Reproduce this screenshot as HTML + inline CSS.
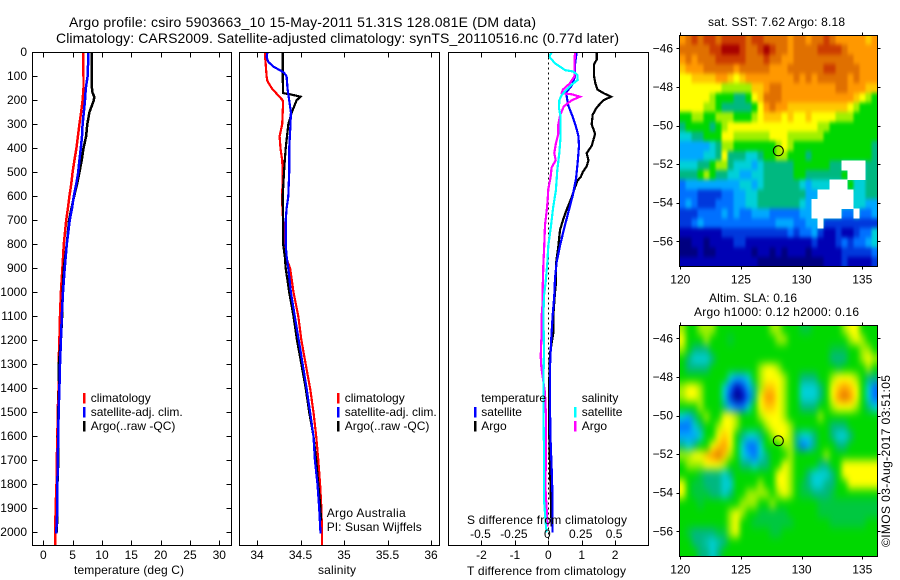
<!DOCTYPE html>
<html lang="en">
<head>
<meta charset="utf-8">
<title>Argo profile 5903663_10</title>
<style>
html,body{margin:0;padding:0;background:#fff;width:900px;height:580px;overflow:hidden}
svg{display:block;font-family:"Liberation Sans",sans-serif;font-size:12px;fill:#000}
</style>
</head>
<body>
<svg id="chart" xmlns="http://www.w3.org/2000/svg" width="900" height="580" viewBox="0 0 900 580">
  <rect x="0" y="0" width="900" height="580" fill="#fff"/>
  <text x="69" y="27" font-size="14" textLength="467">Argo profile: csiro 5903663_10 15-May-2011 51.31S 128.081E (DM data)</text>
  <text x="56" y="43" font-size="14" textLength="563">Climatology: CARS2009. Satellite-adjusted climatology: synTS_20110516.nc (0.77d later)</text>
  <text x="74" y="574" textLength="110">temperature (deg C)</text>
  <text x="318" y="574" textLength="38">salinity</text>
  <text x="467" y="575" textLength="159">T difference from climatology</text>
  <text x="708" y="26" textLength="137">sat. SST: 7.62  Argo: 8.18</text>
  <text x="709" y="302" textLength="88">Altim. SLA: 0.16</text>
  <text x="694" y="316" textLength="165">Argo h1000: 0.12  h2000: 0.16</text>
  <text transform="translate(890,547) rotate(-90)" textLength="172">©IMOS 03-Aug-2017 03:51:05</text>
  <g id="plots"></g>
  <g>
    <text x="326.7" y="517" textLength="79">Argo Australia</text>
    <text x="326.7" y="531" textLength="95">PI: Susan Wijffels</text>
  </g>
  <g>
    <text x="467" y="524" textLength="160">S difference from climatology</text>
  </g>
</svg>
<script>
// ---------- axis tick data ----------
const depthTicks = [0,100,200,300,400,500,600,700,800,900,1000,1100,1200,1300,1400,1500,1600,1700,1800,1900,2000];
const tempTicks = [0,5,10,15,20,25,30];
const salTicks = [34,34.5,35,35.5,36];
const tDiffTicks = [-2,-1,0,1,2];
const sDiffTicks = [-0.5,-0.25,0,0.25,0.5];
const lonTicks = [120,125,130,135];
const latTicks = [-46,-48,-50,-52,-54,-56];

// ---------- temperature profiles ----------
const tempClimDepth = [0,100,150,200,250,300,350,400,450,500,550,600,650,700,800,900,1000,1100,1200,1300,1400,1500,1600,1700,1800,1900,2000,2056];
const tempClimValue = [6.8,6.85,6.85,6.7,6.45,6.15,5.9,5.65,5.3,5.0,4.75,4.45,4.2,3.9,3.5,3.25,3.0,2.85,2.75,2.6,2.6,2.45,2.4,2.3,2.25,2.1,2.05,2.05];
const tempArgoDepth = [0,150,170,185,200,250,300,350,400,450,500,550,600,650,700,800,900,1000,1100,1200,1300,1400,1500,1600,1700,1800,1900,2000];
const tempArgoValue = [8.25,8.3,8.4,8.7,8.6,7.85,7.5,7.3,6.85,6.55,6.15,5.75,5.25,4.8,4.4,4.0,3.5,3.3,3.2,3.0,2.65,2.7,2.55,2.5,2.55,2.4,2.4,2.3];
const tempSatDepth = [0,100,150,200,250,300,350,400,450,500,550,600,650,700,800,900,1000,1100,1200,1300,1400,1500,1600,1700,1800,1900,2005];
const tempSatValue = [7.7,7.55,7.25,7.1,6.9,6.7,6.6,6.4,6.15,5.95,5.6,5.2,4.9,4.5,4.0,3.65,3.35,3.15,3.0,2.85,2.75,2.6,2.55,2.45,2.4,2.4,2.2];

// ---------- salinity profiles ----------
const salClimDepth = [0,50,100,120,150,180,200,210,300,350,400,450,500,600,630,700,800,850,900,1000,1100,1200,1300,1400,1500,1600,1700,1800,1900,2000,2056];
const salClimValue = [34.09,34.10,34.11,34.12,34.17,34.245,34.295,34.30,34.29,34.26,34.27,34.29,34.295,34.29,34.29,34.30,34.31,34.33,34.38,34.42,34.475,34.51,34.56,34.61,34.65,34.68,34.705,34.725,34.74,34.747,34.747];
const salArgoDepth = [0,100,170,175,185,200,250,300,400,450,500,600,700,800,850,900,1000,1100,1200,1300,1400,1500,1600,1700,1800,1900,1950];
const salArgoValue = [34.295,34.295,34.30,34.38,34.50,34.455,34.40,34.36,34.33,34.32,34.31,34.295,34.30,34.30,34.32,34.33,34.37,34.42,34.46,34.51,34.56,34.60,34.65,34.68,34.705,34.73,34.735];
const salSatDepth = [0,20,40,60,75,85,100,150,200,250,300,400,500,600,650,700,800,850,900,1000,1100,1200,1300,1400,1500,1600,1700,1800,1900,2005];
const salSatValue = [34.12,34.11,34.13,34.19,34.265,34.31,34.34,34.35,34.37,34.39,34.385,34.37,34.37,34.36,34.34,34.33,34.33,34.34,34.36,34.39,34.435,34.48,34.525,34.57,34.61,34.65,34.665,34.695,34.715,34.73];

// ---------- difference profiles ----------
const dTArgoDepth = [0,30,50,100,130,155,170,185,200,230,260,300,340,390,420,450,475,500,520,535,575,615,655,695,740,810,880,960,1000,1100,1170,1254,1407,1546,1726,1824,1976];
const dTArgoValue = [1.45,1.45,1.37,1.37,1.41,1.47,1.65,1.88,1.65,1.45,1.33,1.30,1.40,1.30,1.15,1.2,1.15,1.03,0.97,0.87,0.77,0.67,0.55,0.45,0.35,0.30,0.23,0.23,0.2,0.15,0.15,0.05,0.02,0.02,0.05,0.07,0.1];
const dTSatDepth = [0,50,100,139,167,222,264,306,348,390,458,528,597,667,736,806,875,944,1014,1100,1212,1310,1449,1588,1726,1865,2000];
const dTSatValue = [0.85,0.8,0.8,0.7,0.53,0.6,0.72,0.82,0.9,0.92,0.88,0.83,0.73,0.6,0.47,0.35,0.25,0.2,0.18,0.13,0.08,0.05,0.05,0.06,0.1,0.13,0.13];
const dSArgoDepth = [0,50,100,130,155,170,175,185,200,225,260,300,340,380,420,450,480,520,570,620,660,720,800,880,980,1040,1100,1170,1268,1310,1421,1518,1657,1810,1907,1976];
const dSArgoValue = [0.2,0.195,0.195,0.16,0.11,0.10,0.175,0.237,0.175,0.117,0.09,0.075,0.075,0.057,0.045,0.055,0.025,0.017,0,-0.005,-0.012,-0.025,-0.03,-0.037,-0.042,-0.042,-0.05,-0.05,-0.057,-0.052,-0.025,-0.017,-0.017,-0.022,-0.012,-0.007];
const dSSatDepth = [0,18,46,74,80,94,115,135,156,178,200,233,268,350,420,490,575,645,736,806,875,960,1014,1100,1240,1380,1490,1657,1865,1976,2000];
const dSSatValue = [0.025,0.007,0.05,0.125,0.187,0.217,0.22,0.175,0.137,0.1,0.082,0.08,0.092,0.092,0.082,0.067,0.057,0.037,0.017,0,-0.007,-0.02,-0.032,-0.037,-0.032,-0.037,-0.037,-0.032,-0.032,-0.017,-0.012];

// ---------- map positions ----------
const floatLon = [128.08];
const floatLat = [-51.31];

// ---------- gridded map levels (33 longitudes x 24 latitudes, -1 = no data) ----------
const sstLevels = [
[11,12,13,12,13,13,12,13,13,13,13,12,13,13,12,12,12,12,11,12,12,11,12,12,13,12,11,11,11,11,11,10,11],
[12,12,12,12,12,13,13,14,14,14,13,12,12,13,14,13,12,12,11,12,12,12,12,13,13,13,13,12,11,11,11,11,11],
[11,12,11,12,12,12,13,13,13,13,13,12,12,12,13,12,12,11,11,12,12,12,12,12,12,12,12,12,12,11,11,11,11],
[10,11,11,11,12,12,12,12,12,11,12,12,12,12,12,11,11,11,12,12,12,12,12,12,13,13,12,12,12,12,11,11,11],
[9,9,10,10,10,10,11,11,10,9,10,11,11,11,11,11,11,11,11,12,11,12,11,12,12,12,12,12,11,12,11,11,11],
[9,9,9,9,9,9,9,8,8,8,8,8,10,10,11,12,12,11,11,11,11,11,11,11,11,11,12,12,11,11,11,10,10],
[9,9,9,9,9,8,7,7,7,6,6,7,9,10,12,12,12,11,11,11,11,11,11,11,11,11,11,11,11,10,9,8,7],
[9,9,9,9,8,8,7,6,6,6,6,6,7,9,11,12,11,11,10,10,10,10,10,10,10,10,10,10,9,8,7,7,7],
[7,7,8,8,7,7,8,8,8,7,7,7,8,9,10,10,10,9,10,9,9,10,9,9,9,9,8,8,8,7,7,7,7],
[6,7,7,7,7,6,7,8,9,9,9,9,9,9,9,9,9,9,9,9,9,9,9,8,8,7,7,7,7,7,7,7,7],
[5,5,6,6,7,7,7,9,9,8,8,8,8,8,8,9,9,9,8,8,8,8,8,8,7,7,7,7,7,7,7,7,7],
[4,4,4,4,4,5,6,8,8,7,7,7,7,7,7,7,8,9,8,7,7,7,7,7,7,7,7,7,7,7,7,7,6],
[4,4,4,4,5,5,6,9,6,6,6,5,5,6,7,7,8,8,7,7,7,6,7,7,7,7,7,7,7,7,7,7,6],
[5,5,5,6,6,7,8,8,6,5,5,5,4,5,6,6,6,6,6,7,7,7,7,7,7,6,6,-1,-1,-1,-1,6,6],
[6,6,6,7,8,7,6,6,5,5,4,4,5,5,6,6,6,6,6,7,7,6,6,6,6,6,6,7,-1,-1,-1,6,6],
[3,4,4,4,4,4,4,4,4,4,5,5,4,5,6,6,6,6,6,6,5,4,5,5,5,-1,-1,-1,7,5,5,6,6],
[3,3,3,2,2,2,2,3,3,4,4,5,5,6,6,6,6,6,6,6,6,4,4,-1,-1,-1,-1,-1,-1,5,5,6,6],
[3,4,3,2,2,2,3,3,3,4,4,5,5,6,6,6,6,6,6,6,5,4,-1,-1,-1,-1,-1,-1,-1,5,5,4,4],
[2,2,2,3,3,3,3,4,3,4,3,3,4,4,4,3,3,3,3,3,4,4,-1,-1,-1,-1,-1,3,3,-1,3,3,4],
[2,2,3,4,3,3,3,3,3,3,3,3,3,3,3,3,4,4,4,3,3,4,4,-1,2,2,2,2,2,2,2,2,2],
[1,1,1,1,1,1,1,2,2,2,2,2,2,2,2,2,2,2,3,2,3,3,4,2,1,1,2,1,1,2,3,3,5],
[0,0,1,1,0,1,1,1,1,2,2,1,1,1,1,1,1,1,1,1,1,1,2,1,1,1,2,3,2,3,3,4,5],
[0,0,0,1,0,0,1,1,1,1,1,1,0,1,1,0,1,0,1,1,1,0,1,1,1,1,1,2,2,2,2,2,3],
[1,1,1,1,1,1,1,1,1,1,1,1,1,0,0,0,0,0,0,0,0,0,0,0,1,1,1,2,1,1,1,1,2]
];
const slaLevels = [
[8,7,7,8,8,8,7,7,7,7,7,7,7,7,7,8,8,7,7,7,6.5,6.5,7,7,7,7,7,8,9,9,7,7,7],
[9,7,7,7,8,7,7,7,6.5,7,7,7,7,7,7,7,8,8,7,7,7,7,7,7,7,7,7,7,8,9,8,7,7],
[8,7,6,6,6,7,7,7,7,7,7,7,7,7,7,7,7,7,7,7,7,7,7,7,7,6.5,6.5,6.5,7,7,8,8,7],
[7,6,5,5,5,6,7,7,7,7,7,7,7,7,7,7,7,7,7,7,7,7,7,7,7,6,6,6,7,7,8,9,8],
[7,6,6,6,6,7,7,7,7,7,7,7,7,8,9,9,8,7,7,7,7,7,7,7,7,7,6.5,7,7,7,7,8,7],
[7,7,7,7,7,7,7,7,5,4,4,5,7,8,9,9,9,8,7,7,6,6,6,7,7,8,9,9,9,8,7,6,6],
[8,9,9,8,7,7,7,5,3,1,2,4,6,8,10,10,9,8,7,7,5,5,5,6,7,9,10,11,10,9,7,5,3],
[8,9,9,8,7,7,7,5,2,0,1,3,6,9,11,11,9,8,7,7,5,5,5,6,7,9,11,12,11,9,7,5,3],
[7,7,7,8,7,7,7,6,4,3,3,5,7,9,10,10,9,8,7,7,6,6,6,7,7,8,9,9,9,8,7,6,5],
[5,4,6,7,8,7,7,9,9,8,7,7,7,8,9,9,9,8,7,7,7,7,7,8,7,7,7,7,7,7,7,7,7],
[3,3,5,6,7,7,8,9,9,8,7,7,7,7,8,9,9,9,8,7,7,7,7,7,7,6,6,6,7,7,7,7,7],
[4,4,4,5,7,7,9,10,9,7,6,5,5,6,7,8,9,9,8,6,5,5,6,7,7,6,5,5,6,7,7,7,7],
[6,5,6,7,7,9,10,11,9,7,5,3,3,5,7,7,7,8,8,6,3,4,6,7,7,7,6,6,7,7,7,7,7],
[8,8,9,9,10,11,12,10,8,7,5,4,3,5,6,7,7,7,8,7,7,7,7,7,8,7,7,7,7,7,7,7,7],
[7,8,8,8,9,9,9,8,7,7,6,6,5,6,6,7,7,9,8,7,7,7,7,6,6,7,7,9,9,9,9,9,9],
[7,7,7,6.5,6,6,6,5,6,7,7,7,7,7,7,7,9,9,8,7,7,6,5,5,5,6,7,9,9,9,9,9,9],
[9,7,6.5,6.5,6,6,6,5,5,7,7,7,7,8,7,7,9,9,8,7,6.5,6,5,5,6,6,7,7,9,9,9,9,9],
[9,7,6.5,6.5,6.5,6,6,5,6,7,7,8,8,8,8,7,8,9,8,7,6.5,6.5,6,6,6,6.5,7,7,7,7,7,7,7],
[7,7,7,6.5,7,7,7,7,7,7,8,8,8,7,7,8,7,7,7,7,7,7,7,6.5,6.5,6.5,6.5,6.5,6.5,6.5,6.5,6.5,6.5],
[7,7,7,7,7,7,7,7,8,9,8,7,7,6.5,6.5,6.5,6.5,6.5,7,7,7,7,7,6.5,6.5,6.5,6.5,6.5,6.5,6.5,6.5,6.5,6.5],
[7,7,7,7,7,7,7,7,8,9,7,7,6.5,6.5,6.5,6.5,6.5,6.5,6.5,7,7,7,7,7,7,6.5,6.5,6.5,6.5,6.5,6.5,7,7],
[7,6.5,6,6,6,6,6.5,6.5,8,9,7,7,7,7,7,6.5,6.5,7,7,7,7,7,7,7,7,7,7,7,7,7,7,7,7],
[7,7,6,6,5.5,5,5.5,6,7,7,7,7,7,7,7,7,7,7,7,7,7,7,7,7,7,7,7,7,7,7,7,7,7],
[7,7,7,6,6,5,6,7,7,7,7,7,7,7,7,7,7,7,7,7,7,7,7,7,7,7,7,7,7,7,7,7,7]
];
const levelColors = ['#000080','#0000b4','#0038dc','#0070ff','#00a8ff','#00d0d8','#00b880','#00d800','#a0f000','#ffff00','#ffc800','#ff9800','#e07000','#cc3c00','#a80000'];

// ---------- scales ----------
const SVGNS = 'http://www.w3.org/2000/svg';
const root = document.getElementById('plots');
const depthY = d => 52.3 + 0.24 * d;
const tempX = t => 43.3 + 5.867 * t;
const salX = s => 257 + 87 * (s - 34);
const dTX = t => 548.3 + 33.4 * t;
const dSX = s => 548.3 + 133.7 * s;
const lonX = l => 680.3 + 12.13 * (l - 120);
const lat1Y = l => 48.3 + 19.3 * (-46 - l);
const lat2Y = l => 338.3 + 19.3 * (-46 - l);

function levelColor(v) {
  const c = Math.max(0, Math.min(levelColors.length - 1, v));
  const a = Math.floor(c);
  const b = Math.min(levelColors.length - 1, a + 1);
  const f = c - a;
  const parse = h => [1, 3, 5].map(k => parseInt(h.substr(k, 2), 16));
  const pa = parse(levelColors[a]);
  const pb = parse(levelColors[b]);
  return 'rgb(' + pa.map((x, k) => Math.round(x + (pb[k] - x) * f)).join(',') + ')';
}
function add(parent, tag, name) {
  const el = document.createElementNS(SVGNS, tag);
  
  
  parent.appendChild(el);
  return el;
}
function seg(parent, name, x1, y1, x2, y2) {
  const l = add(parent, 'line', name);
  l.setAttribute('x1', x1); l.setAttribute('y1', y1);
  l.setAttribute('x2', x2); l.setAttribute('y2', y2);
  l.setAttribute('stroke', '#000');
  l.setAttribute('stroke-width', '1');
  l.setAttribute('shape-rendering', 'crispEdges');
  return l;
}
function label(parent, name, x, y, str, anchor) {
  const t = add(parent, 'text', name);
  t.setAttribute('x', x); t.setAttribute('y', y);
  if (anchor) t.setAttribute('text-anchor', anchor);
  t.textContent = str;
  return t;
}
function frame(parent, name, x0, y0, x1, y1) {
  const r = add(parent, 'rect', name);
  r.setAttribute('x', x0); r.setAttribute('y', y0);
  r.setAttribute('width', x1 - x0); r.setAttribute('height', y1 - y0);
  r.setAttribute('fill', 'none');
  r.setAttribute('stroke', '#000');
  r.setAttribute('stroke-width', '1');
  r.setAttribute('shape-rendering', 'crispEdges');
  return r;
}
function profile(parent, name, color, depths, values, xf, width) {
  const p = add(parent, 'polyline', name);
  p.setAttribute('points', depths.map((d, i) => xf(values[i]).toFixed(1) + ',' + depthY(d).toFixed(1)).join(' '));
  p.setAttribute('fill', 'none');
  p.setAttribute('stroke', color);
  p.setAttribute('stroke-width', width);
  p.setAttribute('shape-rendering', 'crispEdges');
  return p;
}
function legendEntry(parent, name, x, y, color, str) {
  if (color) {
    const s = add(parent, 'rect', name + '-swatch');
    s.setAttribute('x', x - 7.5);
    s.setAttribute('y', y - 9);
    s.setAttribute('width', 2.5);
    s.setAttribute('height', 10.5);
    s.setAttribute('fill', color);
    s.setAttribute('shape-rendering', 'crispEdges');
  }
  label(parent, name + '-label', x, y, str);
}

const TOP = 52.5, BOT = 545.5;

// ---------- panel 1: temperature ----------
const p1 = add(root, 'g', 'temperature-panel');
profile(p1, 'temperature-climatology-line', '#ff0000', tempClimDepth, tempClimValue, tempX, 2.5);
profile(p1, 'temperature-argo-line', '#000000', tempArgoDepth, tempArgoValue, tempX, 2.5);
profile(p1, 'temperature-satellite-line', '#0000ff', tempSatDepth, tempSatValue, tempX, 2.5);
frame(p1, 'temperature-panel-frame', 32.5, TOP, 231.5, BOT);
depthTicks.forEach(d => {
  const y = Math.round(depthY(d)) + 0.5;
  seg(p1, 'depth-tick-left', 32.5, y, 37.5, y);
  seg(p1, 'depth-tick-right', 226.5, y, 231.5, y);
  label(p1, 'depth-tick-label', 27, depthY(d) + 3.5, String(d), 'end');
});
tempTicks.forEach(t => {
  const x = Math.round(tempX(t)) + 0.5;
  seg(p1, 'temperature-tick-top', x, TOP, x, TOP + 5);
  seg(p1, 'temperature-tick-bottom', x, BOT - 5, x, BOT);
  label(p1, 'temperature-tick-label', tempX(t), 559, String(t), 'middle');
});
legendEntry(p1, 'legend-climatology', 90.7, 402, '#ff0000', 'climatology');
legendEntry(p1, 'legend-satellite-adj', 90.7, 416, '#0000ff', 'satellite-adj. clim.');
legendEntry(p1, 'legend-argo', 90.7, 430, '#000000', 'Argo(..raw -QC)');

// ---------- panel 2: salinity ----------
const p2 = add(root, 'g', 'salinity-panel');
profile(p2, 'salinity-climatology-line', '#ff0000', salClimDepth, salClimValue, salX, 2.2);
profile(p2, 'salinity-argo-line', '#000000', salArgoDepth, salArgoValue, salX, 2.2);
profile(p2, 'salinity-satellite-line', '#0000ff', salSatDepth, salSatValue, salX, 2.2);
frame(p2, 'salinity-panel-frame', 239.5, TOP, 439.5, BOT);
salTicks.forEach(s => {
  const x = Math.round(salX(s)) + 0.5;
  seg(p2, 'salinity-tick-top', x, TOP, x, TOP + 5);
  seg(p2, 'salinity-tick-bottom', x, BOT - 5, x, BOT);
  label(p2, 'salinity-tick-label', salX(s), 559, String(s), 'middle');
});
legendEntry(p2, 'legend-climatology', 344.7, 402, '#ff0000', 'climatology');
legendEntry(p2, 'legend-satellite-adj', 344.7, 416, '#0000ff', 'satellite-adj. clim.');
legendEntry(p2, 'legend-argo', 344.7, 430, '#000000', 'Argo(..raw -QC)');

// ---------- panel 3: differences ----------
const p3 = add(root, 'g', 'difference-panel');
const zeroLine = seg(p3, 'zero-dotted-line', dTX(0), TOP, dTX(0), BOT);
zeroLine.setAttribute('stroke-dasharray', '2 3');
profile(p3, 't-diff-argo-line', '#000000', dTArgoDepth, dTArgoValue, dTX, 2.2);
profile(p3, 't-diff-satellite-line', '#0000ff', dTSatDepth, dTSatValue, dTX, 2.2);
profile(p3, 's-diff-argo-line', '#ff00ff', dSArgoDepth, dSArgoValue, dSX, 2.2);
profile(p3, 's-diff-satellite-line', '#00ffff', dSSatDepth, dSSatValue, dSX, 2.2);
frame(p3, 'difference-panel-frame', 448.5, TOP, 648.5, BOT);
tDiffTicks.forEach(t => {
  const x = Math.round(dTX(t)) + 0.5;
  seg(p3, 't-diff-tick-top', x, TOP, x, TOP + 5);
  label(p3, 't-diff-tick-label', dTX(t), 559, String(t), 'middle');
});
sDiffTicks.forEach(s => {
  const x = Math.round(dSX(s)) + 0.5;
  seg(p3, 's-diff-tick-bottom', x, BOT - 5, x, BOT);
  label(p3, 's-diff-tick-label', dSX(s) - 1, 538, String(s), 'middle');
});
legendEntry(p3, 'legend-temperature-heading', 481.3, 402, null, 'temperature');
legendEntry(p3, 'legend-t-satellite', 481.3, 416, '#0000ff', 'satellite');
legendEntry(p3, 'legend-t-argo', 481.3, 430, '#000000', 'Argo');
legendEntry(p3, 'legend-salinity-heading', 581.7, 402, null, 'salinity');
legendEntry(p3, 'legend-s-satellite', 581.7, 416, '#00ffff', 'satellite');
legendEntry(p3, 'legend-s-argo', 581.7, 430, '#ff00ff', 'Argo');

// ---------- maps ----------
function drawMap(name, grid, latY, topPx, bottomPx, blurX, blurY, bgLevel) {
  const g = add(root, 'g', name);
  const clipId = name + '-clip';
  const cp = add(g, 'clipPath', name + '-clip-path');
  cp.setAttribute('id', clipId);
  const cr = add(cp, 'rect', name + '-clip-rect');
  cr.setAttribute('x', 679.5); cr.setAttribute('y', topPx);
  cr.setAttribute('width', 198); cr.setAttribute('height', bottomPx - topPx);
  const clipG = add(g, 'g', name + '-clipped-area');
  clipG.setAttribute('clip-path', 'url(#' + clipId + ')');
  const bg = add(clipG, 'rect', name + '-background');
  bg.setAttribute('x', 679.5); bg.setAttribute('y', topPx);
  bg.setAttribute('width', 198); bg.setAttribute('height', bottomPx - topPx);
  bg.setAttribute('fill', levelColor(bgLevel));
  const f = add(g, 'filter', name + '-smoothing');
  f.setAttribute('id', name + '-blur');
  f.setAttribute('color-interpolation-filters', 'sRGB');
  f.setAttribute('x', '-10%'); f.setAttribute('y', '-10%');
  f.setAttribute('width', '120%'); f.setAttribute('height', '120%');
  const fb = add(f, 'feGaussianBlur', name + '-smoothing-blur');
  fb.setAttribute('stdDeviation', blurX + ' ' + blurY);
  const cells = add(clipG, 'g', name + '-cells');
  cells.setAttribute('filter', 'url(#' + name + '-blur)');
  const holes = add(clipG, 'g', name + '-no-data-cells');
  const cellW = 12.13 * 0.4946;
  const cellH = 19.3 * 0.5;
  grid.forEach((row, j) => {
    row.forEach((v, i) => {
      const lonL = 119.93 + i * 0.4946;
      const latT = -45.31 - j * 0.5;
      const x0 = lonX(lonL);
      const y0 = latY(latT);
      if (v < 0) {
        const h = add(holes, 'rect', name + '-no-data-cell');
        h.setAttribute('x', x0.toFixed(2));
        h.setAttribute('y', y0.toFixed(2));
        h.setAttribute('width', (cellW + 0.3).toFixed(2));
        h.setAttribute('height', (cellH + 0.3).toFixed(2));
        h.setAttribute('fill', '#fff');
        h.setAttribute('shape-rendering', 'crispEdges');
        return;
      }
      const padL = i === 0 ? 12 : 0;
      const padR = i === row.length - 1 ? 12 : 0;
      const padT = j === 0 ? 14 : 0;
      const padB = j === grid.length - 1 ? 14 : 0;
      const r = add(cells, 'rect', name + '-cell');
      r.setAttribute('x', (x0 - padL).toFixed(2));
      r.setAttribute('y', (y0 - padT).toFixed(2));
      r.setAttribute('width', (cellW + 0.5 + padL + padR).toFixed(2));
      r.setAttribute('height', (cellH + 0.5 + padT + padB).toFixed(2));
      r.setAttribute('fill', levelColor(v));
      r.setAttribute('shape-rendering', 'crispEdges');
    });
  });
  frame(g, name + '-frame', 679.5, topPx, 877.5, bottomPx);
  lonTicks.forEach(l => {
    const x = Math.round(lonX(l)) + 0.5;
    seg(g, name + '-lon-tick-top', x, topPx - 3, x, topPx);
    seg(g, name + '-lon-tick-bottom', x, bottomPx, x, bottomPx + 3);
    label(g, name + '-lon-label', lonX(l), bottomPx + 17, String(l), 'middle');
  });
  latTicks.forEach(l => {
    const y = Math.round(latY(l)) + 0.5;
    seg(g, name + '-lat-tick-left', 676.5, y, 679.5, y);
    seg(g, name + '-lat-tick-right', 877.5, y, 880.5, y);
    label(g, name + '-lat-label', 673, latY(l) + 4, String(l).replace('-', '\u2212'), 'end');
  });
  const c = add(g, 'circle', name + '-argo-float-marker');
  c.setAttribute('cx', lonX(floatLon[0]));
  c.setAttribute('cy', latY(floatLat[0]));
  c.setAttribute('r', 5);
  c.setAttribute('fill', 'none');
  c.setAttribute('stroke', '#000');
  c.setAttribute('stroke-width', '1');
}
drawMap('sst-map', sstLevels, lat1Y, 35.5, 266.5, 1.2, 2.2, 5);
drawMap('sla-map', slaLevels, lat2Y, 325.5, 556.5, 3, 4.5, 7);
</script>
</body>
</html>
